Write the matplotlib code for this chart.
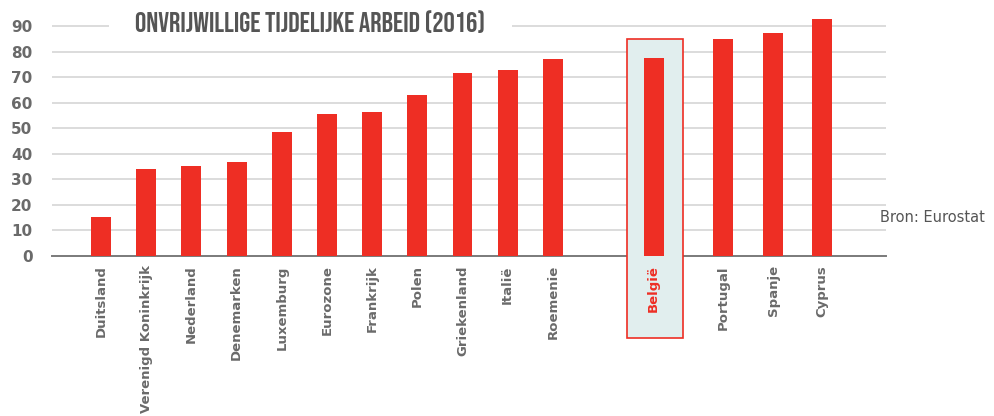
import matplotlib
matplotlib.use("Agg")
import matplotlib.pyplot as plt
from matplotlib.patches import Rectangle
import matplotlib.transforms as mtransforms

# ---- data ----
countries = ["Duitsland", "Verenigd Koninkrijk", "Nederland", "Denemarken", "Luxemburg",
             "Eurozone", "Frankrijk", "Polen", "Griekenland", "Italië", "Roemenie",
             "België", "Portugal", "Spanje", "Cyprus"]
values = [15.1, 34.0, 35.1, 36.7, 48.3, 55.6, 56.4, 63.0, 71.7, 72.9, 77.2,
          77.4, 85.0, 87.4, 92.9]
yticks = [0, 10, 20, 30, 40, 50, 60, 70, 80, 90]
highlight = "België"
title = "ONVRIJWILLIGE TIJDELIJKE ARBEID (2016)"
source = "Bron: Eurostat"

# ---- layout (slot positions) ----
slots = [0, 1, 2, 3, 4, 5, 6, 7, 8, 9, 10, 12.23, 13.76, 14.87, 15.96]

RED = "#ee2e24"
GRID = "#d9d9d9"
TXT = "#6a6a6a"
LABEL_FONT = ["DejaVu Sans"]

W, H = 994, 416
fig = plt.figure(figsize=(W / 100, H / 100), dpi=100)
left_px, right_px = 52, 886
zero_px, top_px = 255.5, 13.5
ax = fig.add_axes([left_px / W, 1 - zero_px / H, (right_px - left_px) / W, (zero_px - top_px) / H])
ax.set_facecolor("none")

ax.set_xlim(-1.084, 17.37)
ax.set_ylim(0, 95)

# grid lines
for t in yticks[1:]:
    ax.axhline(t, color=GRID, lw=1.3, zorder=1)
# baseline
ax.axhline(0, color="#7a7a7a", lw=1.4, zorder=1.2, clip_on=False)

# highlight box
hi = countries.index(highlight)
trans = mtransforms.blended_transform_factory(ax.transData, fig.transFigure)
bx0 = slots[hi] - 0.59
bx1 = slots[hi] + 0.65
rect = Rectangle((bx0, 1 - 338 / H), bx1 - bx0, (338 - 39) / H, transform=trans,
                 facecolor="#e1eeee", edgecolor=RED, lw=1.2, zorder=1.5, clip_on=False)
ax.add_patch(rect)

ax.bar(slots, values, width=0.44, color=RED, zorder=2)

ax.set_axisbelow(False)
for s in ax.spines.values():
    s.set_visible(False)
ax.set_yticks(yticks)
ax.set_yticklabels([str(t) for t in yticks], fontsize=11, fontweight="bold", color=TXT,
                   family=LABEL_FONT)
ax.tick_params(axis="y", length=0, pad=14)
ax.set_xticks(slots)
ax.set_xticklabels(countries, rotation=90, fontsize=9.5, fontweight="bold", color=TXT,
                   va="top", ha="center", family=LABEL_FONT)
ax.tick_params(axis="x", length=0, pad=7)
for lbl in ax.get_xticklabels():
    if lbl.get_text() == highlight:
        lbl.set_color(RED)

# white band behind title covering the top grid line
fig.patches.append(Rectangle((109 / W, 1 - 36 / H), (512 - 109) / W, 24 / H,
                             transform=fig.transFigure, facecolor="white",
                             edgecolor="none", zorder=3))
fig.text(135 / W, 1 - 21.5 / H, title, fontsize=20.3, color="#555555",
         family=["Bebas Neue", "DejaVu Sans"], va="center", ha="left", zorder=4)

fig.text(880 / W, 1 - 218 / H, source, fontsize=10.5, color="#555555", va="center",
         ha="left", family=LABEL_FONT)

fig.savefig("out.png", dpi=100)
